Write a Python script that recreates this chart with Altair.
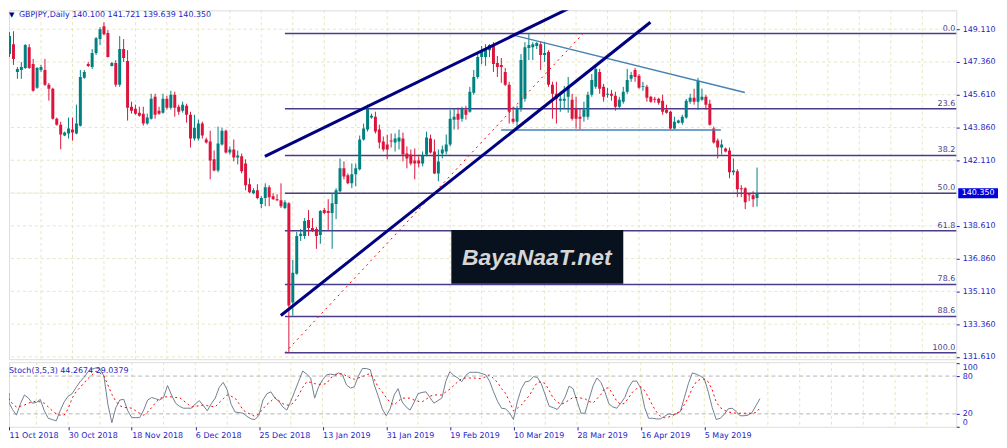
import json
import numpy as np
import pandas as pd
import altair as alt

# ---------------- data ----------------
opens = [
    147.78, 148.31, 146.83, 146.93, 147.04, 148.15, 147.25, 145.98, 146.93, 146.93,
    146.14, 145.93, 144.33, 144.01, 143.43, 143.54, 143.75, 143.54, 143.96, 146.51,
    147.25, 147.09, 147.84, 148.58, 149.27, 148.90, 147.15, 147.31, 146.14, 148.05,
    147.41, 144.97, 144.86, 144.65, 144.60, 144.07, 144.33, 145.50, 144.76, 144.65,
    145.39, 144.92, 145.61, 144.97, 144.76, 145.02, 144.54, 143.27, 143.27, 144.07,
    143.22, 143.11, 142.16, 141.57, 142.95, 143.69, 142.53, 142.69, 142.26, 142.32,
    141.94, 140.83, 140.35, 140.51, 139.77, 140.09, 140.67, 140.19, 140.03, 139.98,
    139.56, 139.82, 134.51, 136.05, 138.07, 138.07, 138.92, 138.49, 138.44, 138.12,
    139.45, 139.40, 139.29, 139.77, 140.46, 141.68, 141.31, 140.88, 141.36, 141.63,
    143.22, 143.75, 144.39, 144.44, 143.75, 143.11, 142.95, 143.16, 143.06, 143.11,
    143.27, 142.47, 142.42, 142.10, 142.10, 141.94, 142.42, 143.27, 142.58, 141.41,
    142.47, 142.58, 142.95, 144.28, 144.60, 144.33, 144.81, 144.70, 145.71, 146.56,
    147.62, 147.62, 147.99, 148.26, 147.31, 147.20, 146.83, 146.14, 144.33, 144.17,
    144.86, 145.39, 148.10, 148.15, 148.21, 148.31, 147.73, 147.89, 146.14, 145.66,
    145.29, 145.29, 145.50, 145.34, 144.86, 144.44, 144.44, 144.44, 145.61, 146.03,
    146.83, 146.03, 145.61, 145.66, 145.55, 144.97, 145.24, 145.77, 146.46, 146.93,
    146.62, 146.03, 146.03, 145.50, 145.39, 145.39, 145.29, 144.81, 144.70, 143.80,
    144.12, 144.12, 144.39, 145.24, 145.45, 145.24, 145.34, 145.50, 145.13, 143.80,
    143.16, 142.79, 142.74, 142.63, 141.47, 141.52, 140.62, 140.62, 140.30, 140.24,
    140.100,
]
highs = [
    148.95, 149.00, 147.09, 147.36, 148.31, 148.31, 147.52, 147.09, 147.20, 147.52,
    146.24, 145.98, 144.39, 144.17, 143.64, 144.39, 144.39, 145.08, 146.93, 146.93,
    147.36, 148.05, 148.69, 149.22, 149.48, 149.06, 147.36, 147.46, 148.74, 148.58,
    147.99, 145.24, 145.08, 144.97, 144.97, 144.60, 145.66, 145.66, 144.97, 145.66,
    145.55, 145.82, 145.77, 145.08, 145.24, 145.13, 144.70, 144.54, 144.28, 144.17,
    143.32, 143.69, 142.63, 143.91, 143.85, 143.75, 142.85, 143.22, 142.63, 142.47,
    142.16, 141.15, 140.62, 140.83, 140.19, 140.88, 140.78, 140.35, 140.30, 140.88,
    139.98, 139.87, 136.79, 138.28, 138.44, 139.02, 139.45, 139.02, 138.55, 139.45,
    139.56, 140.03, 140.35, 140.62, 142.21, 142.05, 141.41, 141.94, 141.94, 143.43,
    144.07, 145.08, 144.60, 144.70, 144.01, 143.38, 143.48, 143.54, 143.54, 143.75,
    143.59, 142.85, 142.69, 142.74, 142.32, 142.58, 143.64, 143.48, 143.22, 142.69,
    142.90, 143.48, 144.81, 144.86, 144.92, 144.97, 145.02, 146.03, 146.93, 147.89,
    148.21, 148.31, 148.31, 148.42, 147.68, 147.57, 147.04, 146.30, 144.97, 145.02,
    147.78, 148.42, 148.90, 148.42, 148.42, 148.47, 148.42, 147.99, 146.30, 146.30,
    145.77, 146.08, 146.56, 145.66, 145.50, 144.86, 145.24, 145.77, 146.72, 147.20,
    146.99, 146.19, 145.98, 145.87, 145.77, 145.50, 146.03, 146.99, 146.83, 147.04,
    146.72, 146.30, 146.14, 145.55, 145.50, 145.45, 145.61, 145.08, 144.76, 144.44,
    144.28, 144.54, 145.39, 145.66, 145.93, 146.51, 145.93, 145.61, 145.34, 143.91,
    143.27, 143.22, 142.79, 142.79, 142.21, 141.63, 140.78, 140.67, 140.35, 140.46,
    141.721,
]
lows = [
    147.62, 147.20, 146.46, 146.46, 146.99, 146.99, 145.77, 145.93, 146.83, 146.08,
    145.29, 144.28, 143.96, 142.69, 143.40, 143.27, 143.16, 143.50, 143.91, 146.46,
    147.09, 146.99, 147.73, 148.26, 148.79, 147.60, 147.12, 146.03, 146.03, 147.36,
    144.23, 144.60, 144.54, 144.44, 143.96, 144.01, 144.28, 144.33, 144.54, 144.60,
    144.81, 144.81, 144.44, 144.54, 144.65, 144.12, 142.79, 143.16, 143.16, 143.27,
    143.00, 141.09, 141.52, 141.47, 142.90, 142.47, 142.42, 142.05, 141.89, 141.41,
    140.51, 140.35, 140.30, 140.03, 139.56, 139.66, 139.66, 140.00, 139.93, 139.56,
    139.50, 131.83, 133.82, 136.00, 137.80, 137.91, 138.07, 138.28, 137.38, 137.65,
    139.24, 138.39, 137.38, 138.97, 140.40, 141.09, 140.83, 140.62, 140.72, 141.57,
    143.16, 143.64, 144.33, 143.54, 142.74, 142.58, 142.16, 142.79, 142.58, 142.69,
    142.05, 141.68, 141.84, 141.09, 141.73, 141.78, 142.32, 142.47, 141.38, 140.99,
    142.21, 142.42, 142.85, 143.75, 143.75, 144.17, 144.28, 144.65, 145.61, 146.46,
    147.25, 147.15, 147.62, 146.83, 146.56, 146.24, 146.08, 144.07, 144.07, 143.75,
    144.70, 145.24, 147.46, 147.46, 148.05, 146.93, 147.36, 146.03, 144.33, 144.07,
    144.70, 144.86, 144.65, 144.23, 143.80, 143.75, 144.17, 144.28, 145.50, 145.93,
    145.66, 145.24, 145.45, 145.29, 144.76, 144.86, 145.13, 145.66, 146.30, 146.30,
    145.93, 145.82, 145.24, 145.18, 145.18, 145.08, 144.54, 144.60, 143.75, 143.75,
    144.07, 144.01, 144.33, 145.13, 145.08, 144.81, 145.29, 144.81, 143.96, 143.00,
    142.21, 142.42, 142.53, 141.15, 141.31, 140.14, 140.14, 139.50, 139.93, 139.61,
    139.639,
]
closes = [
    148.74, 147.52, 146.99, 147.09, 148.26, 147.04, 145.82, 147.04, 147.09, 146.14,
    145.93, 144.33, 144.01, 143.48, 143.59, 143.80, 143.59, 144.07, 146.56, 146.83,
    147.15, 147.84, 148.63, 149.11, 148.84, 147.62, 147.31, 146.14, 148.05, 147.57,
    144.92, 144.76, 144.60, 144.49, 144.07, 144.39, 145.39, 144.54, 144.60, 145.39,
    144.92, 145.61, 144.92, 144.70, 145.08, 144.54, 143.27, 143.85, 144.07, 143.43,
    143.06, 142.10, 141.57, 143.00, 143.69, 142.53, 142.69, 142.26, 142.37, 141.52,
    140.78, 140.40, 140.51, 140.09, 140.09, 140.67, 140.14, 140.03, 139.98, 139.66,
    139.87, 134.35, 136.11, 138.07, 138.18, 138.87, 138.49, 138.39, 138.07, 139.40,
    139.29, 139.29, 139.82, 140.51, 141.68, 141.25, 140.88, 141.36, 141.68, 143.22,
    143.80, 144.86, 144.49, 143.64, 143.06, 142.69, 142.69, 143.11, 143.27, 143.32,
    142.42, 142.21, 141.94, 141.94, 141.94, 142.37, 143.32, 142.53, 141.41, 142.05,
    142.69, 142.95, 144.33, 144.44, 144.28, 144.86, 144.54, 145.77, 146.56, 147.62,
    147.89, 148.05, 148.26, 147.25, 147.09, 147.09, 146.14, 144.70, 144.17, 144.86,
    147.46, 148.15, 148.26, 148.31, 148.37, 147.73, 147.84, 146.14, 145.66, 145.39,
    145.39, 145.39, 146.03, 144.33, 144.33, 144.33, 144.81, 145.61, 146.40, 146.99,
    145.93, 145.50, 145.66, 145.55, 144.97, 145.34, 145.77, 146.40, 146.67, 146.56,
    145.98, 146.08, 145.45, 145.24, 145.34, 145.18, 144.70, 144.65, 143.80, 144.17,
    144.23, 144.44, 145.29, 145.45, 145.24, 146.35, 145.50, 145.08, 144.01, 143.06,
    142.79, 142.95, 142.58, 141.47, 141.57, 140.56, 140.56, 139.87, 140.24, 140.03,
    140.350,
]
stoch_k = [
    50, 38, 27, 18, 36, 50, 45, 37, 38, 43,
    25, 13, 11, 9, 25, 39, 48, 52, 62, 71,
    78, 87, 91, 93, 91, 80, 35, 6, 30, 42,
    43, 25, 14, 14, 14, 26, 42, 46, 44, 42,
    46, 65, 50, 37, 32, 29, 29, 29, 36, 41,
    33, 25, 36, 45, 62, 70, 58, 35, 23, 22,
    21, 16, 12, 11, 18, 42, 52, 55, 45, 40,
    31, 26, 40, 56, 72, 88, 83, 77, 45, 63,
    74, 82, 83, 82, 85, 82, 66, 61, 63, 80,
    92, 92, 90, 66, 48, 28, 17, 28, 50, 60,
    39, 31, 26, 38, 52, 54, 55, 46, 37, 41,
    45, 72, 87, 81, 77, 71, 81, 86, 86, 86,
    84, 82, 72, 55, 40, 29, 28, 22, 11, 40,
    60, 71, 72, 79, 78, 68, 50, 32, 30, 27,
    35, 47, 64, 60, 40, 21, 21, 43, 64, 77,
    70, 55, 36, 31, 29, 37, 46, 62, 72, 72,
    61, 30, 13, 13, 12, 12, 16, 20, 19, 20,
    24, 46, 68, 85, 83, 80, 76, 55, 30, 11,
    13, 19, 28, 29, 24, 17, 17, 18, 22, 33,
    44.2674,
]
stoch_d = [
    53, 44, 36, 31, 32, 34, 37, 39, 40, 39,
    37, 31, 25, 20, 18, 18, 28, 45, 55, 62,
    69, 76, 82, 88, 85, 80, 66, 51, 40, 33,
    30, 30, 29, 25, 21, 18, 23, 30, 38, 44,
    47, 47, 47, 46, 46, 41, 36, 31, 32, 33,
    34, 33, 32, 31, 38, 44, 50, 48, 45, 36,
    26, 22, 19, 16, 20, 28, 35, 40, 46, 41,
    36, 34, 34, 40, 50, 62, 71, 70, 68, 67,
    67, 68, 77, 81, 83, 84, 80, 77, 75, 77,
    79, 82, 84, 75, 62, 55, 46, 38, 34, 40,
    45, 45, 45, 42, 40, 39, 43, 48, 50, 50,
    50, 55, 59, 65, 71, 76, 77, 77, 77, 76,
    76, 79, 82, 76, 70, 60, 53, 40, 25, 29,
    34, 42, 49, 60, 70, 71, 68, 57, 45, 39,
    35, 38, 42, 46, 46, 45, 44, 40, 37, 44,
    51, 61, 61, 51, 40, 35, 37, 46, 55, 60,
    63, 57, 46, 33, 23, 16, 14, 15, 17, 21,
    24, 35, 46, 61, 71, 75, 75, 71, 58, 39,
    30, 26, 23, 22, 21, 21, 21, 21, 21, 22,
    29.0379,
]
date_labels = ["11 Oct 2018", "30 Oct 2018", "18 Nov 2018", "6 Dec 2018",
               "25 Dec 2018", "13 Jan 2019", "31 Jan 2019", "19 Feb 2019",
               "10 Mar 2019", "28 Mar 2019", "16 Apr 2019", "5 May 2019"]
price_ticks = [149.11, 147.36, 145.61, 143.86, 142.11, 138.61, 136.86, 135.11, 133.36, 131.61]
grid_prices = [149.11, 147.36, 145.61, 143.86, 142.11, 140.36, 138.61, 136.86, 135.11, 133.36, 131.61]
fib_high, fib_low, fib_start = 148.88, 131.83, 70.0
fib_levels = [0.0, 23.6, 38.2, 50.0, 61.8, 78.6, 88.6, 100.0]
last_price = 140.35
stoch_levels = [20, 80]
# trend lines: (bar1, price1, bar2, price2)
channel_lines = [(64.9, 142.32, 150.0, 151.02), (68.95, 133.82, 162.9, 149.48)]
blue_lines = [(128.3, 148.78, 186.9, 145.73), (124.95, 143.73, 180.8, 143.73)]
fib_diagonal = [(fib_start, fib_low, 145.8, fib_high)]
title_text = "GBPJPY,Daily  140.100 141.721 139.639 140.350"
stoch_text = "Stoch(3,5,3) 44.2674 29.0379"

# ---------------- style ----------------
FONT = "DejaVu Sans"
BLUE_TXT = "#1c1cc4"
FRAME = "#0000ff"
GRID = "#e6e6c4"
TEAL = "#008080"
CRIMSON = "#dc143c"
FIBC = "#483d8b"
W, H_MAIN, H_ST = 953, 351, 65

XS = alt.Scale(domain=[1.125, 239.375], clamp=True, nice=False, zero=False)
YS = alt.Scale(domain=[131.4878, 150.1185], nice=False, zero=False)
SS = alt.Scale(domain=[-0.47, 102.05], nice=False, zero=False)

Y_AXIS = alt.Axis(orient="right", values=price_ticks, format=".3f", title=None, grid=False,
                  domain=False, tickSize=3, tickColor=BLUE_TXT, labelColor=BLUE_TXT,
                  labelFont=FONT, labelFontSize=8, labelPadding=3, labelFlush=False,
                  labelOverlap=False)
label_expr = ("datum.value % 16 == 0 && datum.value / 16 < " + str(len(date_labels)) +
              " ? " + json.dumps(date_labels) + "[datum.value / 16] : ''")
SX_AXIS = alt.Axis(orient="bottom", values=[16 * k for k in range(len(date_labels))],
                   labelExpr=label_expr, title=None, grid=False, domain=False,
                   tickSize=3, tickColor=BLUE_TXT, labelColor=BLUE_TXT, labelFont=FONT,
                   labelFontSize=8, labelAlign="left", labelBaseline="top", labelPadding=2,
                   labelFlush=False, labelOverlap=False)
SY_AXIS = alt.Axis(orient="right", values=[0, 20, 80, 100], format="d", title=None,
                   grid=False, domain=False, tickSize=3, tickColor=BLUE_TXT,
                   labelColor=BLUE_TXT, labelFont=FONT, labelFontSize=8, labelPadding=3,
                   labelFlush=False, labelOverlap=False,
                   labelBaseline={"condition": [{"test": "datum.value == 100", "value": "top"},
                                                {"test": "datum.value == 0", "value": "bottom"}],
                                  "value": "middle"})


def mx(f):
    return alt.X(f + ":Q", scale=XS, axis=None)


def my(f):
    return alt.Y(f + ":Q", scale=YS, axis=Y_AXIS)


def sx(f):
    return alt.X(f + ":Q", scale=XS, axis=SX_AXIS)


def sy(f):
    return alt.Y(f + ":Q", scale=SS, axis=SY_AXIS)


bars = list(range(len(closes)))
candles = pd.DataFrame({"i": bars, "o": opens, "h": highs, "l": lows, "c": closes})
candles["dir"] = np.where(candles["c"] >= candles["o"], "up", "down")
ccolor = alt.Color("dir:N", scale=alt.Scale(domain=["up", "down"], range=[TEAL, CRIMSON]),
                   legend=None)

vgrid = pd.DataFrame({"b": list(range(8, 240, 8))})
hgrid = pd.DataFrame({"p": grid_prices})
fib = pd.DataFrame({"lvl": fib_levels})
fib["p"] = fib_high - fib["lvl"] / 100.0 * (fib_high - fib_low)
fib["s"] = fib_start
fib["txt"] = fib["lvl"].map(lambda v: f"{v:.1f}")


def seg_df(rows):
    return pd.DataFrame(rows, columns=["i1", "p1", "i2", "p2"])


main_layers = [
    alt.Chart(vgrid).mark_rule(color=GRID, strokeDash=[3, 3], strokeWidth=1).encode(x=mx("b")),
    alt.Chart(hgrid).mark_rule(color=GRID, strokeDash=[3, 3], strokeWidth=1).encode(y=my("p")),
    alt.Chart(pd.DataFrame({"p": [last_price]})).mark_rule(color="#eeeed2", strokeWidth=1)
        .encode(y=my("p")),
    alt.Chart(fib).mark_rule(color=FIBC, strokeWidth=1.5)
        .encode(x=mx("s"), x2=alt.value(W), y=my("p")),
    alt.Chart(pd.DataFrame({"t": [0]})).mark_rect(color="#08121f")
        .encode(x=alt.value(445), x2=alt.value(618), y=alt.value(221), y2=alt.value(275)),
    alt.Chart(pd.DataFrame({"t": ["BayaNaaT.net"]})).mark_text(
        font="Liberation Sans", fontSize=23, fontWeight="bold", fontStyle="italic",
        color="#d6d6d6", align="center", baseline="middle")
        .encode(text="t:N", x=alt.value(531), y=alt.value(249)),
    alt.Chart(candles).mark_rule(strokeWidth=1, clip=True)
        .encode(x=mx("i"), y=my("h"), y2="l", color=ccolor),
    alt.Chart(candles).mark_bar(size=3, clip=True)
        .encode(x=mx("i"), y=my("o"), y2="c", color=ccolor),
    alt.Chart(seg_df(fib_diagonal)).mark_rule(color="#ff0000", strokeWidth=1,
                                               strokeDash=[2, 4], clip=True)
        .encode(x=mx("i1"), y=my("p1"), x2="i2", y2="p2"),
    alt.Chart(seg_df(blue_lines)).mark_rule(color="#4682b4", strokeWidth=1.5, clip=True)
        .encode(x=mx("i1"), y=my("p1"), x2="i2", y2="p2"),
    alt.Chart(seg_df(channel_lines)).mark_rule(color="#000080", strokeWidth=3, clip=True)
        .encode(x=mx("i1"), y=my("p1"), x2="i2", y2="p2"),
    alt.Chart(fib).mark_text(font=FONT, fontSize=8, color=FIBC, align="right",
                             baseline="bottom", dy=-1)
        .encode(text="txt:N", x=alt.value(W - 1), y=my("p")),
    alt.Chart(pd.DataFrame({"t": ["\u25BC"]})).mark_text(font=FONT, fontSize=7,
                                                          color="#000080", align="left",
                                                          baseline="middle")
        .encode(text="t:N", x=alt.value(0), y=alt.value(4.5)),
    alt.Chart(pd.DataFrame({"t": [title_text]})).mark_text(font=FONT, fontSize=8,
                                                           color=BLUE_TXT, align="left",
                                                           baseline="middle")
        .encode(text="t:N", x=alt.value(10), y=alt.value(4.5)),
    alt.Chart(pd.DataFrame({"p": [last_price]})).mark_tick(orient="horizontal", size=40,
                                                           thickness=10, color="#0000dd",
                                                           opacity=1, clip=False)
        .encode(y=my("p"), x=alt.value(975)),
    alt.Chart(pd.DataFrame({"p": [last_price], "t": ["140.350"]})).mark_text(
        font=FONT, fontSize=8, color="white", align="center", baseline="middle")
        .encode(text="t:N", y=my("p"), x=alt.value(975)),
]
main = alt.layer(*main_layers).properties(width=W, height=H_MAIN)

stoch_df = pd.DataFrame({"i": bars, "k": stoch_k, "d": stoch_d})
st_layers = [
    alt.Chart(vgrid).mark_rule(color=GRID, strokeDash=[3, 3], strokeWidth=1).encode(x=sx("b")),
    alt.Chart(pd.DataFrame({"v": stoch_levels})).mark_rule(color="#b4b4b4",
                                                            strokeDash=[4, 3], strokeWidth=1)
        .encode(y=sy("v")),
    alt.Chart(stoch_df).mark_line(color="#708090", strokeWidth=1, clip=True)
        .encode(x=sx("i"), y=sy("k")),
    alt.Chart(stoch_df).mark_line(color="#ff0000", strokeWidth=1, strokeDash=[2, 3], clip=True)
        .encode(x=sx("i"), y=sy("d")),
    alt.Chart(pd.DataFrame({"t": [stoch_text]})).mark_text(font=FONT, fontSize=8,
                                                           color=BLUE_TXT, align="left",
                                                           baseline="middle")
        .encode(text="t:N", x=alt.value(0), y=alt.value(9)),
]
stoch = alt.layer(*st_layers).properties(width=W, height=H_ST)

chart = alt.vconcat(main, stoch, spacing=3, bounds="flush").properties(
    padding=0
).configure_view(stroke=FRAME, strokeWidth=1).configure(background="white")

chart.save("out.html", embed_options={"renderer": "svg", "actions": False})
